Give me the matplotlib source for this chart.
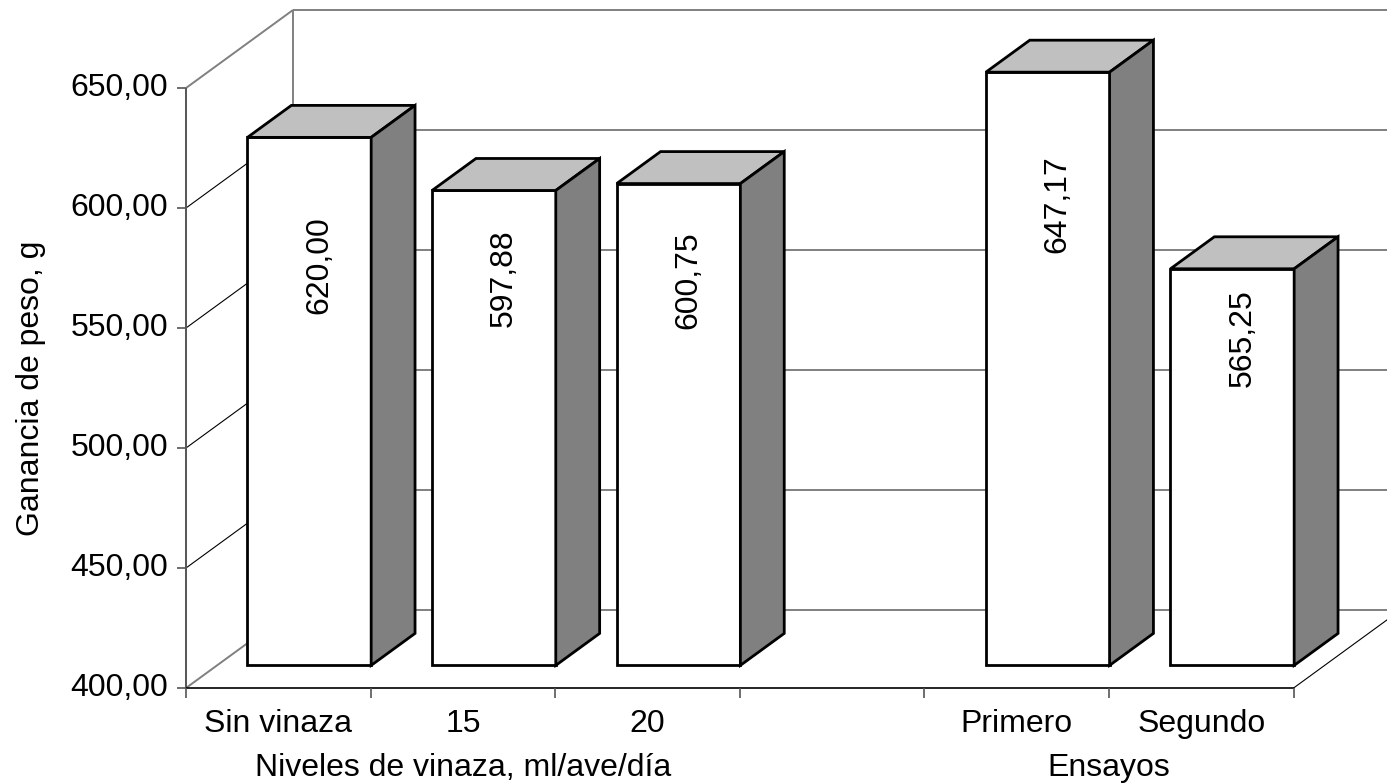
import matplotlib.pyplot as plt
from matplotlib.patches import Polygon

categories = ['Sin vinaza', '15', '20', '', 'Primero', 'Segundo']
values = [620.00, 597.88, 600.75, None, 647.17, 565.25]
groups = ['Niveles de vinaza, ml/ave/día', 'Ensayos']
group_spans = [(0, 3), (4, 6)]
yticks = [400, 450, 500, 550, 600, 650]
ylabel = 'Ganancia de peso, g'

# where each value label sits along its bar (value units)
label_pos = [566.8, 561.4, 560.6, None, 592.3, 536.4]

plt.rcParams['font.family'] = ['Liberation Sans', 'DejaVu Sans']
FS = 23

# oblique projection: full depth of the walls in data units
DX = 107 / 184.6
DV = 78 / 2.4
D0, D1 = 0.29, 0.70      # bar front / back depth
BAR_W = 0.67
VMIN, VMAX = yticks[0], yticks[-1]
NCAT = len(categories)

WALL = '#808080'


def proj(x, v, d):
    return (x + d * DX, v + d * DV)


def seg(p, q, **kw):
    ax.plot([p[0], q[0]], [p[1], q[1]], solid_capstyle='butt', **kw)


fig = plt.figure(figsize=(13.87, 7.84), dpi=100)
ax = fig.add_axes([0, 0, 1, 1])
ax.set_xlim(-186 / 184.6, 1201 / 184.6)
ax.set_ylim(VMIN - 96 / 2.4, VMIN + 688 / 2.4)
ax.axis('off')

# back wall gridlines and left wall
for v in yticks:
    seg(proj(0, v, 1), proj(NCAT, v, 1), color=WALL, lw=1.4)
    if v in (VMIN, VMAX):
        seg(proj(0, v, 0), proj(0, v, 1), color=WALL, lw=1.4)
    else:
        seg(proj(0, v, 0), proj(0, v, 1), color='black', lw=0.8)
    # y ticks + labels
    seg((-9 / 184.6, v), (0, v), color='#555555', lw=1.2)
    ax.text(-18 / 184.6, v, f'{v:.2f}'.replace('.', ','), ha='right',
            va='center', fontsize=FS)
seg(proj(0, VMIN, 1), proj(0, VMAX, 1), color=WALL, lw=1.4)

# value axis and floor
seg((0, VMIN), (0, VMAX), color='#555555', lw=1.4)
seg((0, VMIN), (NCAT, VMIN), color='black', lw=1.2)
seg(proj(NCAT, VMIN, 0), proj(NCAT, VMIN, 1), color='black', lw=0.8)
for i in range(NCAT + 1):
    seg((i, VMIN), (i, VMIN - 10 / 2.4), color='#555555', lw=1.2)

# bars
for i, v in enumerate(values):
    if v is None:
        continue
    xc = i + 0.5
    x0, x1 = xc - BAR_W / 2, xc + BAR_W / 2
    front = [proj(x0, VMIN, D0), proj(x1, VMIN, D0), proj(x1, v, D0), proj(x0, v, D0)]
    top = [proj(x0, v, D0), proj(x1, v, D0), proj(x1, v, D1), proj(x0, v, D1)]
    side = [proj(x1, VMIN, D0), proj(x1, VMIN, D1), proj(x1, v, D1), proj(x1, v, D0)]
    for pts, fc in ((front, 'white'), (top, '#c0c0c0'), (side, '#808080')):
        ax.add_patch(Polygon(pts, closed=True, facecolor=fc, edgecolor='black',
                             lw=2.0, joinstyle='miter', zorder=3))
    lx, ly = proj(xc + 0.054, label_pos[i], D0)
    ax.text(lx, ly, f'{v:.2f}'.replace('.', ','), rotation=90, ha='center',
            va='center', fontsize=FS, zorder=4)

# category and group labels
for i, c in enumerate(categories):
    ax.text(i + 0.5, VMIN - 36 / 2.4, c, ha='center', va='center', fontsize=FS)
for g, (a, b) in zip(groups, group_spans):
    ax.text((a + b) / 2, VMIN - 80 / 2.4, g, ha='center', va='center', fontsize=FS)

ax.text(-155 / 184.6, 525, ylabel, rotation=90, ha='center', va='center', fontsize=FS)

fig.savefig('out.png', dpi=100)
